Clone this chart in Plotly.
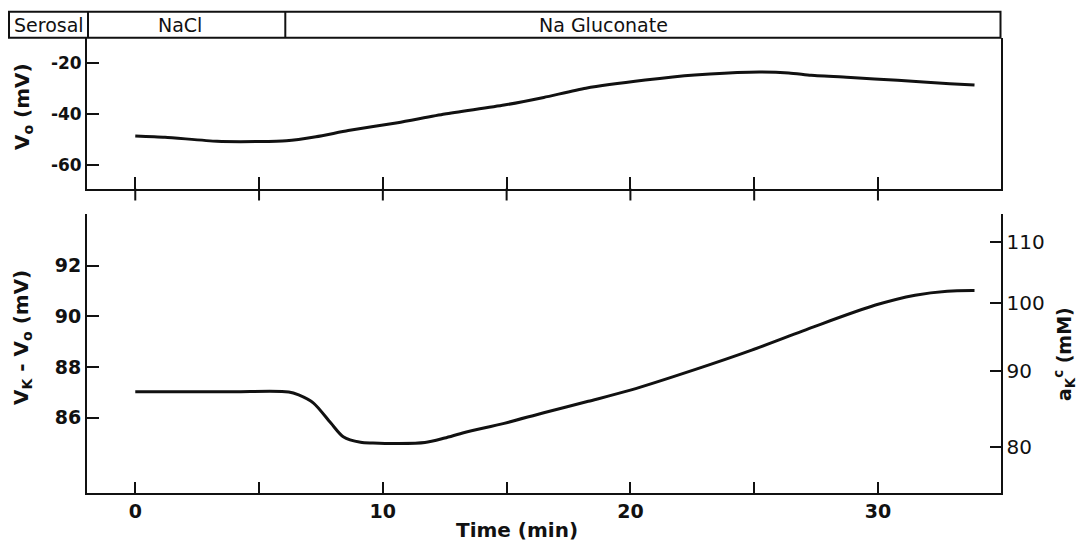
import numpy as np
import plotly.graph_objects as go

W, H = 1081, 552

# ---- data ----
t_vo = [0, 1.2, 3.3, 5.0, 6.1, 7.3, 8.6, 10.6, 12.5, 14.9, 16.5, 18.2, 20.6,
        22.6, 24.8, 26.4, 27.3, 28.9, 30.8, 32.9, 33.9]
vo = [-48.6, -49.1, -50.7, -50.8, -50.5, -48.9, -46.5, -43.4, -40.0, -36.5,
      -33.5, -29.9, -26.7, -24.7, -23.6, -23.9, -24.8, -25.7, -26.8, -28.1, -28.6]

t_vk = [0, 2, 4, 6.2, 6.6, 7.2, 7.9, 8.4, 9.1, 9.6, 10.6, 11.7, 12.5, 13.3, 14.9,
        16.5, 18.3, 20.0, 22.6, 24.9, 27.4, 29.9, 31.5, 32.8, 33.9]
vk_vo = [87.03, 87.03, 87.03, 87.02, 86.9, 86.58, 85.79, 85.25, 85.03, 85.0,
         84.98, 85.02, 85.2, 85.42, 85.78, 86.2, 86.65, 87.09, 87.9, 88.67, 89.59,
         90.45, 90.84, 91.0, 91.02]

x_ticks = [0, 5, 10, 15, 20, 25, 30]
x_ticktext = ["0", "", "10", "", "20", "", "30"]
vo_ticks = [-20, -40, -60]
vo_ticktext = ["-20", "-40", "-60"]
vk_ticks = [86, 88, 90, 92]
ak_ticks = [80, 90, 100, 110]
header_labels = ["Serosal", "NaCl", "Na Gluconate"]
solution_change_min = 6.06

# Nernst-type relation between the two bottom scales (mV per decade, offset)
nernst_slope, nernst_offset = 58.4, -26.3

# ---- layout geometry (pixels) ----
def px(x):
    return x / W

def py(y):
    return 1 - y / H

X_DOM = [px(87), px(1000.5)]
X_RANGE = [-1.95, 34.95]
TOP_DOM = [py(188.5), py(37.7)]
BOT_DOM = [py(493), py(214)]
VO_RANGE = [-69.2, -10.1]
VK_RANGE = [83.03, 94.045]
AK_LOG_RANGE = [1.8724, 2.0601]

FONT = "DejaVu Sans"
BLACK = "#111111"

fig = go.Figure()

fig.add_trace(go.Scatter(x=t_vo, y=vo, xaxis="x2", yaxis="y2", mode="lines",
                         line=dict(color=BLACK, width=3, shape="spline", smoothing=0.6),
                         hoverinfo="skip"))
fig.add_trace(go.Scatter(x=t_vk, y=vk_vo, xaxis="x", yaxis="y", mode="lines",
                         line=dict(color=BLACK, width=3, shape="spline", smoothing=0.8),
                         hoverinfo="skip"))
# invisible companion trace on the a_K axis (same curve expressed in mM)
ak_vals = [10 ** ((v - nernst_offset) / nernst_slope) for v in vk_vo]
fig.add_trace(go.Scatter(x=t_vk, y=ak_vals, xaxis="x", yaxis="y3", mode="lines",
                         line=dict(color="rgba(0,0,0,0)", width=0), hoverinfo="skip"))

axis_common = dict(showgrid=False, zeroline=False, showline=True, linecolor=BLACK,
                   linewidth=2, tickcolor=BLACK, tickwidth=2, automargin=False)

fig.update_layout(
    width=W, height=H, margin=dict(l=0, r=0, t=0, b=0, autoexpand=False),
    paper_bgcolor="white", plot_bgcolor="white", showlegend=False,
    font=dict(family=FONT, color=BLACK),
    xaxis=dict(domain=X_DOM, range=X_RANGE, anchor="y", ticks="inside", ticklen=11,
               tickmode="array", tickvals=x_ticks, ticktext=x_ticktext,
               tickfont=dict(family=FONT, size=19, weight="bold", color=BLACK),
               **axis_common),
    xaxis2=dict(domain=X_DOM, range=X_RANGE, anchor="y2", matches="x", ticks="inside",
                ticklen=12, tickmode="array", tickvals=x_ticks, showticklabels=False,
                **axis_common),
    yaxis=dict(domain=BOT_DOM, range=VK_RANGE, anchor="x", ticks="inside", ticklen=12,
               tickmode="array", tickvals=vk_ticks + [94.04],
               ticktext=[str(v) for v in vk_ticks] + [""],
               tickfont=dict(family=FONT, size=19, weight="bold", color=BLACK),
               **axis_common),
    yaxis2=dict(domain=TOP_DOM, range=VO_RANGE, anchor="x2", ticks="inside", ticklen=12,
                tickmode="array", tickvals=vo_ticks, ticktext=vo_ticktext, mirror=True,
                tickfont=dict(family=FONT, size=17, weight="bold", color=BLACK),
                **axis_common),
    yaxis3=dict(overlaying="y", side="right", anchor="x", type="log", range=AK_LOG_RANGE,
                ticks="inside", ticklen=11, tickmode="array",
                tickvals=ak_ticks + [10 ** 2.06],
                ticktext=[str(v) for v in ak_ticks] + [""],
                tickfont=dict(family=FONT, size=20, color=BLACK),
                **axis_common),
)

shapes = []
# crossing ticks on top panel: outward half
for t in x_ticks:
    shapes.append(dict(type="line", xref="x2", yref="paper", x0=t, x1=t,
                       y0=py(188.5), y1=py(200.5), line=dict(color=BLACK, width=2)))
# header box
shapes.append(dict(type="rect", xref="paper", yref="paper", x0=px(9), x1=px(1000.5),
                   y0=py(37.7), y1=py(11.7), line=dict(color=BLACK, width=2)))
shapes.append(dict(type="line", xref="paper", yref="paper", x0=px(88), x1=px(88),
                   y0=py(37.7), y1=py(11.7), line=dict(color=BLACK, width=2)))
shapes.append(dict(type="line", xref="x2", yref="paper", x0=solution_change_min,
                   x1=solution_change_min, y0=py(37.7), y1=py(11.7),
                   line=dict(color=BLACK, width=2)))
fig.update_layout(shapes=shapes)

ann = []
hdr_pos = [49, 180, 603]
for lab, xp in zip(header_labels, hdr_pos):
    ann.append(dict(text=lab, x=px(xp), y=py(25), xref="paper", yref="paper",
                    showarrow=False, xanchor="center", yanchor="middle",
                    font=dict(family=FONT, size=19, color=BLACK)))
ann.append(dict(text="V<sub>o</sub> (mV)", x=px(23), y=py(107), xref="paper", yref="paper",
                showarrow=False, textangle=-90, xanchor="center", yanchor="middle",
                font=dict(family=FONT, size=20, weight="bold", color=BLACK)))
ann.append(dict(text="V<sub>K</sub> - V<sub>o</sub> (mV)", x=px(22), y=py(338),
                xref="paper", yref="paper", showarrow=False, textangle=-90,
                xanchor="center", yanchor="middle",
                font=dict(family=FONT, size=20, weight="bold", color=BLACK)))
ann.append(dict(text="a<sub>K</sub><sup>c</sup> (mM)", x=px(1064), y=py(354),
                xref="paper", yref="paper", showarrow=False, textangle=-90,
                xanchor="center", yanchor="middle",
                font=dict(family=FONT, size=19, weight="bold", color=BLACK)))
ann.append(dict(text="Time (min)", x=px(517), y=py(530), xref="paper", yref="paper",
                showarrow=False, xanchor="center", yanchor="middle",
                font=dict(family=FONT, size=20, weight="bold", color=BLACK)))
fig.update_layout(annotations=ann)

fig.write_html("out.html")
